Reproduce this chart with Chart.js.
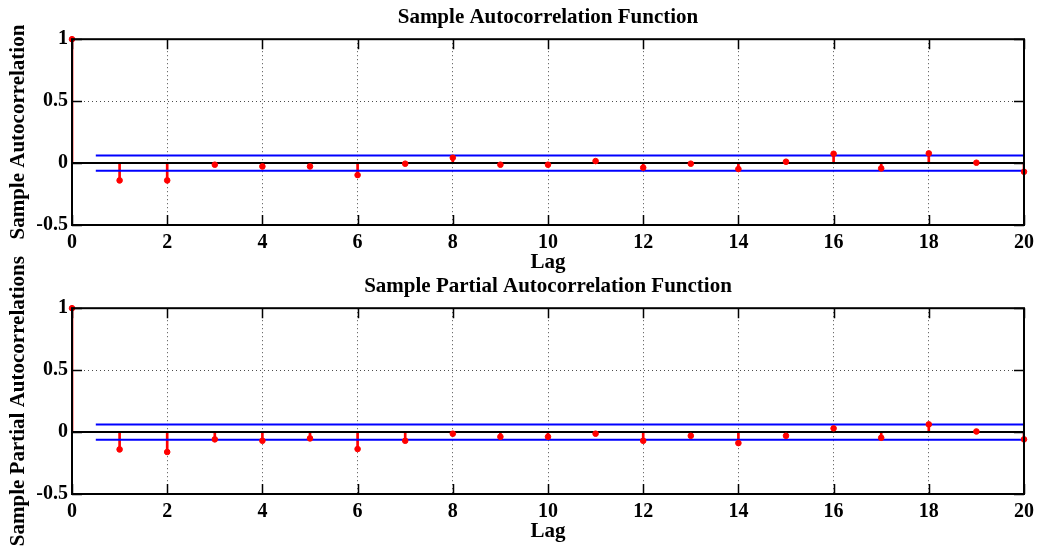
<!DOCTYPE html>
<html>
<head>
<meta charset="utf-8">
<script src="https://cdn.jsdelivr.net/npm/chart.js@4.4.1/dist/chart.umd.min.js"></script>
<style>
  html, body { margin:0; padding:0; background:#fff; }
  #wrap { position:relative; width:1040px; height:546px; }
  #wrap canvas { position:absolute; left:0; top:0; }
</style>
</head>
<body>
<div id="wrap">
  <canvas id="acfChart" width="1040" height="546"></canvas>
  <canvas id="pacfChart" width="1040" height="546"></canvas>
</div>
<script>
// ── data ─────────────────────────────────────────────────────────────────────
const LAGS   = [0,1,2,3,4,5,6,7,8,9,10,11,12,13,14,15,16,17,18,19,20];
const ACF    = [1,-0.14,-0.14,-0.013,-0.027,-0.027,-0.097,-0.005,0.043,-0.013,-0.013,
                0.016,-0.037,-0.005,-0.048,0.011,0.075,-0.043,0.078,0.003,-0.07];
const PACF   = [1,-0.14,-0.161,-0.059,-0.07,-0.051,-0.137,-0.07,-0.013,-0.038,-0.038,
                -0.013,-0.07,-0.03,-0.089,-0.03,0.03,-0.046,0.062,0.005,-0.059];
const BOUND  = 0.062;          // confidence bounds (±)
const BOUND_FROM = 0.5;        // bounds start at lag 0.5
const X_TICKS = [0,2,4,6,8,10,12,14,16,18,20];
const Y_TICKS = [-0.5,0,0.5,1];

const SERIF = '"Liberation Serif","Times New Roman",serif';
Chart.defaults.font.family = SERIF;
Chart.defaults.font.weight = 'bold';
Chart.defaults.color = '#000';

// box + inward ticks + rotated y label, MATLAB style
const frame = {
  id: 'frame',
  afterDatasetsDraw(chart, args, o) {
    const { ctx, chartArea: a, scales: { x, y } } = chart;
    ctx.save();
    ctx.strokeStyle = '#000';
    ctx.lineWidth = 1.5;
    ctx.beginPath();
    X_TICKS.forEach(v => {
      const px = Math.round(x.getPixelForValue(v)) + 0.5;
      ctx.moveTo(px, a.bottom); ctx.lineTo(px, a.bottom - 10);
      ctx.moveTo(px, a.top);    ctx.lineTo(px, a.top + 10);
    });
    Y_TICKS.forEach(v => {
      const py = Math.round(y.getPixelForValue(v)) + 0.5;
      ctx.moveTo(a.left, py);  ctx.lineTo(a.left + 10, py);
      ctx.moveTo(a.right, py); ctx.lineTo(a.right - 10, py);
    });
    ctx.stroke();
    ctx.lineWidth = 2;
    ctx.strokeRect(a.left, a.top, a.width, a.height);

    ctx.font = 'bold 21px ' + SERIF;
    ctx.fillStyle = '#000';
    ctx.textAlign = 'center';
    ctx.textBaseline = 'middle';
    ctx.translate(o.x, (a.top + a.bottom) / 2 + o.shift);
    ctx.rotate(-Math.PI / 2);
    ctx.fillText(o.label, 0, 0);
    ctx.restore();
  }
};

function makeChart(id, title, ylabel, values, pad, shift) {
  const pts = LAGS.map((l, i) => ({ x: l, y: values[i] }));
  return new Chart(document.getElementById(id), {
    type: 'bar',
    data: {
      datasets: [
        { type:'scatter', data: pts, backgroundColor:'#ff0000', borderColor:'#ff0000',
          pointRadius:2.8, pointHoverRadius:2.8, clip:false, order:1 },
        { type:'line', data:[{x:0,y:0},{x:20,y:0}], borderColor:'#000', borderWidth:2,
          pointRadius:0, order:2 },
        { type:'line', data:[{x:BOUND_FROM,y:BOUND},{x:20,y:BOUND}], borderColor:'#0000ff',
          borderWidth:2, pointRadius:0, order:2 },
        { type:'line', data:[{x:BOUND_FROM,y:-BOUND},{x:20,y:-BOUND}], borderColor:'#0000ff',
          borderWidth:2, pointRadius:0, order:2 },
        { type:'bar', data: pts, backgroundColor:'#ff0000', barThickness:2, order:3 },
      ],
    },
    options: {
      responsive:false, animation:false, events:[],
      layout:{ padding: pad },
      plugins:{
        legend:{ display:false }, tooltip:{ enabled:false },
        title:{ display:true, fullSize:false, text:title,
                font:{ size:21, weight:'bold', lineHeight:1.2 },
                padding:{ top:5, bottom:9 } },
        frame:{ label: ylabel, x: 19, shift: shift },
      },
      scales:{
        x:{ type:'linear', min:0, max:20, offset:false,
            afterBuildTicks: s => { s.ticks = X_TICKS.map(v => ({ value:v })); },
            afterFit: s => { s.height = 52; },
            grid:{ offset:false, drawTicks:false, color:'rgba(0,0,0,0.7)', lineWidth:1 },
            border:{ display:false, dash:[1,3] },
            ticks:{ padding:6, maxRotation:0, autoSkip:false, font:{ size:20, weight:'bold' } },
            title:{ display:true, text:'Lag', font:{ size:21, weight:'bold', lineHeight:1.2 },
                    padding:{ top:0, bottom:2 } } },
        y:{ min:-0.5, max:1,
            afterBuildTicks: s => { s.ticks = Y_TICKS.map(v => ({ value:v })); },
            afterFit: s => { s.width = 72; },
            grid:{ drawTicks:false, color:'rgba(0,0,0,0.7)', lineWidth:1 },
            border:{ display:false, dash:[1,3] },
            ticks:{ padding:4, callback: v => String(v), font:{ size:20, weight:'bold' } } },
      },
    },
    plugins:[frame],
  });
}

makeChart('acfChart', 'Sample Autocorrelation Function', 'Sample Autocorrelation',
          ACF, { top:0, left:0, right:16, bottom:269 }, 0);
makeChart('pacfChart', 'Sample Partial Autocorrelation Function', 'Sample Partial Autocorrelations',
          PACF, { top:269, left:0, right:16, bottom:0 }, 0);
</script>
</body>
</html>
